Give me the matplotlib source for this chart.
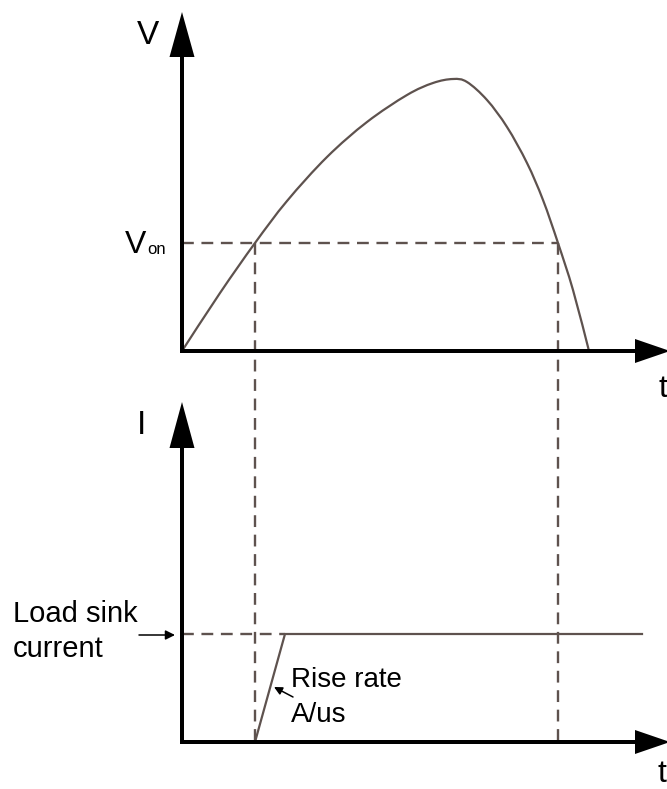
import numpy as np
import matplotlib
matplotlib.use("Agg")
import matplotlib.pyplot as plt
from matplotlib.patches import FancyArrow, PathPatch
from matplotlib.path import Path

plt.rcParams['font.family'] = ['Liberation Sans', 'DejaVu Sans']
plt.rcParams['lines.scale_dashes'] = False

# Input voltage waveform (time offset, voltage height)
voltage_t = [0, 38, 73, 105, 145, 185, 225, 251, 271, 285, 305, 325, 345,
             361, 376, 391, 407]
voltage_v = [0, 58, 108, 150, 194, 229, 256, 268, 272, 269, 251, 224, 188,
             151, 108, 61, 0]

# Turn-on threshold and crossing times
v_on = 108
t_on = 73
t_off = 376

# Load current waveform (time offset, current height)
current_t = [73, 103, 460]
current_i = [0, 108, 108]
i_load = 108

# Layout (pixels)
X0 = 182          # shared time origin
Y_UP = 351        # baseline of voltage plot
Y_LO = 742        # baseline of current plot
TRACE = '#5e524e'
AXIS_W = 4

fig = plt.figure(figsize=(6.67, 7.89), dpi=100)
ax = fig.add_axes([0, 0, 1, 1])
ax.set_xlim(0, 667)
ax.set_ylim(789, 0)
ax.axis('off')


def up(t, v):
    return X0 + np.asarray(t, float), Y_UP - np.asarray(v, float)


def lo(t, i):
    return X0 + np.asarray(t, float), Y_LO - np.asarray(i, float)


def smooth_path(x, y):
    """Cubic Bezier path through the given points (Catmull-Rom tangents)."""
    p = np.column_stack([x, y])
    n = len(p)
    verts = [p[0]]
    codes = [Path.MOVETO]
    for k in range(n - 1):
        p0 = p[k - 1] if k > 0 else p[k]
        p3 = p[k + 2] if k + 2 < n else p[k + 1]
        c1 = p[k] + (p[k + 1] - p0) / 6.0
        c2 = p[k + 1] - (p3 - p[k]) / 6.0
        verts += [c1, c2, p[k + 1]]
        codes += [Path.CURVE4] * 3
    return Path(verts, codes)


def axis_arrow(x, y, dx, dy, hl, hw):
    ax.add_patch(FancyArrow(x, y, dx, dy, width=AXIS_W, head_width=hw,
                            head_length=hl, length_includes_head=True,
                            color='black', lw=0, zorder=5))


# Axes with arrowheads
axis_arrow(X0, Y_UP + 2, 0, 12 - (Y_UP + 2), 45, 25)
axis_arrow(X0 - 2, Y_UP, 670 - (X0 - 2), 0, 35, 24)
axis_arrow(X0, Y_LO + 2, 0, 402 - (Y_LO + 2), 46, 25)
axis_arrow(X0 - 2, Y_LO, 670 - (X0 - 2), 0, 35, 24)

dash = dict(color=TRACE, lw=1.7, dashes=(8.5, 5.5), zorder=3)

# Threshold guides
x, y = up([0, t_off], [v_on, v_on])
ax.plot(x, y, **dash)
for tc in (t_on, t_off):
    ax.plot([X0 + tc, X0 + tc], [Y_UP - v_on, Y_LO], **dash)
x, y = lo([0, current_t[1]], [i_load, i_load])
ax.plot(x, y, **dash)

# Waveforms
x, y = up(voltage_t, voltage_v)
ax.add_patch(PathPatch(smooth_path(x, y), facecolor='none', edgecolor=TRACE,
                       lw=1.6, capstyle='round', zorder=4))
x, y = lo(current_t, current_i)
ax.plot(x, y, color=TRACE, lw=1.6, solid_joinstyle='round', zorder=4)

# Labels
ax.text(148, 35, 'V', fontsize=24, ha='center', va='center')
ax.text(663, 389, 't', fontsize=23, ha='center', va='center')
ax.text(142, 425, 'I', fontsize=24, ha='center', va='center')
ax.text(662, 774, 't', fontsize=23, ha='center', va='center')
ax.text(125, 253, 'V', fontsize=23, ha='left', va='baseline')
ax.text(147, 254, 'on', fontsize=12, ha='left', va='baseline')

ax.text(13, 622, 'Load sink', fontsize=21, ha='left', va='baseline')
ax.text(13, 657, 'current', fontsize=21, ha='left', va='baseline')
ax.annotate('', xy=(175, 635), xytext=(139, 635),
            arrowprops=dict(arrowstyle='-|>', color='black', lw=1.1,
                            mutation_scale=14, shrinkA=0, shrinkB=0))

ax.text(291, 687, 'Rise rate', fontsize=20, ha='left', va='baseline')
ax.text(291, 722, 'A/us', fontsize=20, ha='left', va='baseline')
ax.annotate('', xy=(274, 687), xytext=(293, 697),
            arrowprops=dict(arrowstyle='-|>', color='black', lw=1.1,
                            mutation_scale=12, shrinkA=0, shrinkB=0))

fig.savefig('out.png', dpi=100)
